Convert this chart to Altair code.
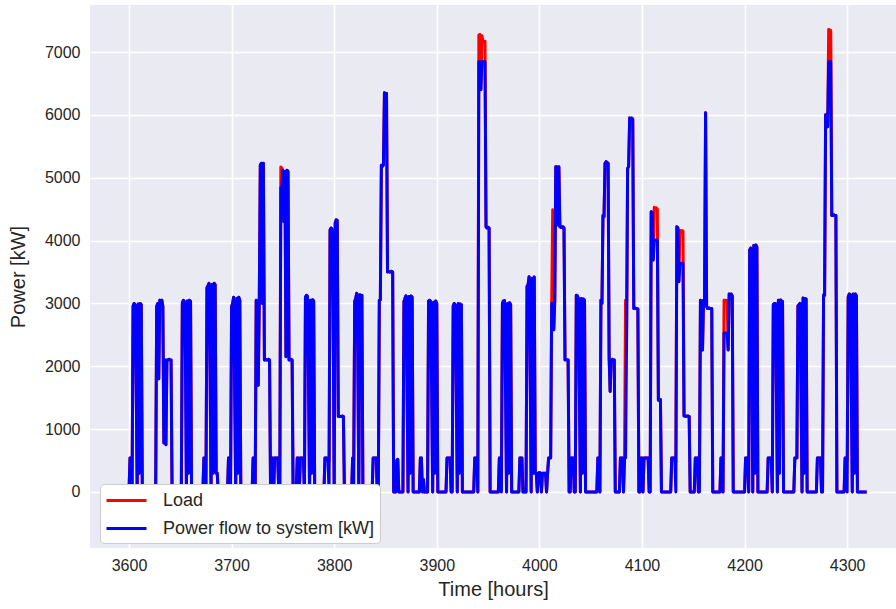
import altair as alt
import pandas as pd

START_HOUR = 3600
SERIES = ["Load", "Power flow to system [kW]"]
COLORS = ["#ff0000", "#0000ff"]
X_TICKS = [3600, 3700, 3800, 3900, 4000, 4100, 4200, 4300]
Y_TICKS = [0, 1000, 2000, 3000, 4000, 5000, 6000, 7000]

# Load [kW], one list of 24 hourly values per day
LOAD_DAYS = [
    [0, 540, 540, 0, 2960, 3000, 2980, 1730, 0, 2990, 300, 3000, 2980, 0, 0, 0, 0, 0, 0, 0, 0, 0, 0, 0],
    [0, 0, 0, 2950, 3000, 1800, 3050, 3000, 3050, 2950, 780, 2100, 750, 2100, 2100, 2110, 2100, 2100, 0, 0, 0, 0, 0, 0],
    [0, 0, 0, 0, 3010, 3050, 3030, 2200, 0, 3040, 300, 3050, 3030, 0, 0, 0, 0, 0, 0, 0, 0, 0, 0, 0],
    [0, 540, 540, 0, 3250, 3280, 3320, 1990, 0, 3300, 300, 3320, 3300, 300, 300, 0, 0, 0, 0, 0, 0, 0, 0, 0],
    [0, 540, 540, 0, 2950, 3000, 3100, 1670, 0, 3080, 300, 3100, 3050, 0, 0, 0, 0, 0, 0, 0, 0, 0, 0, 0],
    [0, 540, 540, 0, 3050, 3000, 1700, 3050, 5200, 5230, 3000, 5230, 2100, 2110, 2100, 2100, 2110, 2100, 0, 540, 540, 0, 540, 540],
    [540, 540, 0, 0, 5170, 5150, 5120, 4300, 5100, 2150, 5120, 5100, 2100, 2100, 2110, 2100, 0, 0, 0, 0, 540, 540, 0, 540],
    [540, 540, 540, 0, 3100, 3130, 3110, 1810, 0, 3050, 300, 3060, 3040, 0, 0, 0, 0, 0, 0, 0, 0, 0, 0, 540],
    [540, 540, 500, 480, 4170, 4200, 4180, 2900, 0, 4280, 4330, 4320, 1200, 1210, 1200, 1200, 1210, 1200, 0, 0, 0, 0, 0, 0],
    [0, 0, 540, 500, 3030, 3080, 3160, 2230, 0, 3140, 3100, 3130, 0, 0, 0, 0, 0, 0, 0, 0, 0, 0, 540, 540],
    [540, 540, 0, 0, 3050, 3060, 5200, 5180, 5200, 6350, 6300, 6340, 3500, 3510, 3500, 3500, 3510, 3500, 0, 0, 0, 500, 520, 0],
    [0, 0, 0, 0, 3030, 3080, 3120, 1730, 0, 3110, 300, 3120, 3100, 0, 0, 0, 0, 0, 0, 0, 540, 540, 0, 200],
    [0, 0, 0, 0, 3040, 3050, 3030, 1675, 0, 3020, 300, 3040, 3000, 0, 0, 0, 0, 0, 0, 0, 0, 0, 540, 540],
    [540, 540, 0, 0, 2960, 3000, 2980, 1650, 0, 3000, 300, 2990, 2980, 0, 0, 0, 0, 0, 0, 0, 0, 0, 0, 0],
    [0, 540, 540, 540, 0, 7270, 7280, 6400, 7260, 7170, 7160, 7170, 4220, 4200, 4210, 4200, 0, 0, 0, 0, 0, 0, 0, 0],
    [0, 540, 540, 540, 3000, 3040, 3045, 1675, 0, 3000, 300, 3010, 2980, 0, 0, 0, 0, 0, 0, 0, 0, 540, 540, 540],
    [0, 0, 0, 0, 3270, 3300, 3425, 1970, 0, 3400, 300, 3420, 300, 300, 0, 300, 310, 300, 0, 300, 290, 300, 300, 0],
    [300, 540, 540, 540, 3000, 4490, 2580, 3050, 5175, 5170, 4250, 5175, 4220, 4210, 4220, 4220, 4200, 2100, 2110, 2100, 2100, 0, 0, 540],
    [540, 540, 0, 0, 3130, 3120, 3080, 1675, 0, 3080, 300, 3070, 3050, 0, 0, 0, 0, 0, 0, 0, 0, 0, 0, 0],
    [0, 540, 540, 0, 3050, 3000, 4400, 4380, 5230, 5255, 5240, 5230, 2130, 1600, 2100, 2110, 2100, 2100, 0, 0, 0, 0, 0, 540],
    [540, 540, 0, 540, 3050, 2450, 5150, 5175, 5950, 5940, 5950, 5930, 2920, 2930, 2920, 2920, 2910, 0, 0, 540, 540, 0, 540, 540],
    [540, 540, 540, 0, 0, 4460, 4450, 3690, 4530, 4510, 4520, 4500, 1460, 1460, 1470, 0, 0, 0, 0, 0, 0, 0, 0, 0],
    [0, 540, 540, 540, 540, 480, 4220, 4200, 3345, 4160, 4150, 4160, 4150, 1210, 1210, 1200, 1210, 1210, 1200, 0, 0, 0, 0, 0],
    [540, 540, 540, 0, 300, 3050, 3030, 2260, 3050, 3055, 6035, 2950, 2920, 2930, 2920, 2920, 2920, 0, 0, 0, 0, 0, 0, 0],
    [0, 540, 540, 0, 3050, 3050, 3040, 3050, 2260, 3150, 3140, 3150, 3120, 0, 0, 0, 0, 0, 0, 0, 0, 0, 0, 0],
    [0, 540, 540, 540, 0, 3850, 3880, 2580, 0, 3920, 300, 3930, 3900, 0, 0, 0, 0, 0, 0, 0, 0, 0, 0, 540],
    [540, 540, 540, 0, 2980, 3000, 3000, 1700, 0, 3050, 300, 3055, 3040, 3030, 0, 0, 0, 0, 0, 0, 0, 0, 0, 0],
    [0, 540, 540, 540, 2960, 2980, 3000, 1700, 0, 3085, 300, 3080, 3070, 0, 0, 0, 0, 0, 0, 0, 0, 0, 0, 540],
    [540, 540, 540, 0, 0, 3135, 3130, 6000, 6000, 5810, 7360, 7350, 7340, 4400, 4400, 4410, 4400, 4400, 0, 0, 0, 0, 0, 0],
    [0, 0, 540, 540, 500, 3100, 3150, 3140, 1755, 0, 3150, 300, 3150, 3120, 0, 0, 0, 0, 0, 0, 0, 0, 0, 0],
]

# Power flow to system equals the load except at these (day, hour-of-day) points
POWER_DIFF = {
    6: {4: 4840, 5: 4840},
    8: {3: 0},
    9: {3: 0},
    14: {5: 6845, 6: 6845, 8: 6845, 9: 6845, 10: 6845, 11: 6845},
    15: {3: 0},
    17: {5: 3000},
    20: {4: 540},
    21: {8: 4010, 9: 4010, 10: 4010, 11: 4000},
    22: {5: 0, 9: 3640, 10: 3640, 11: 3640, 12: 3640},
    23: {4: 0},
    24: {4: 2530, 5: 2530, 6: 2530, 7: 2530},
    28: {10: 6845, 11: 6845, 12: 6845},
    29: {4: 0},
}

rows = []
for d, day in enumerate(LOAD_DAYS):
    diff = POWER_DIFF.get(d, {})
    for r, v in enumerate(day):
        h = START_HOUR + 24 * d + r
        rows.append({"hour": h, "value": v, "series": SERIES[0]})
        rows.append({"hour": h, "value": diff.get(r, v), "series": SERIES[1]})
df = pd.DataFrame(rows)

FONT = "Liberation Sans"
TXT = "#262626"

color = alt.Color(
    "series:N",
    scale=alt.Scale(domain=SERIES, range=COLORS),
    legend=alt.Legend(
        title=None, orient="none", legendX=10, legendY=479, direction="vertical",
        fillColor="white", strokeColor="#cccccc", cornerRadius=4, padding=5,
        symbolType="M-1,0H3", symbolSize=400, symbolStrokeWidth=2.8,
        symbolFillColor="transparent",
        labelFontSize=18, labelFont=FONT, labelColor=TXT, labelOffset=35,
        rowPadding=7, labelLimit=400,
    ),
)

x = alt.X(
    "hour:Q",
    scale=alt.Scale(domain=[3562, 4347.6], nice=False, zero=False),
    axis=alt.Axis(values=X_TICKS, format="d", title="Time [hours]",
                  labelPadding=9, titlePadding=6),
)
y = alt.Y(
    "value:Q",
    scale=alt.Scale(domain=[-891, 7748], nice=False, zero=False),
    axis=alt.Axis(values=Y_TICKS, format="d", title="Power [kW]",
                  labelPadding=10, titlePadding=16),
)

base = alt.Chart(df).mark_line(strokeWidth=3.0, clip=True, strokeJoin="round").encode(
    x=x, y=y, color=color, order="hour:Q"
)
red = base.transform_filter(alt.datum.series == SERIES[0])
blue = base.transform_filter(alt.datum.series == SERIES[1])

chart = alt.layer(red, blue).properties(
    width=806, height=543,
    padding={"left": 90, "top": 5, "right": 0, "bottom": 61},
    autosize=alt.AutoSizeParams(type="none"),
    background="white",
).configure_view(
    fill="#EAEAF2", strokeWidth=0
).configure_axis(
    grid=True, gridColor="white", gridWidth=1.6, domain=False, ticks=False,
    labelFont=FONT, titleFont=FONT, labelFontSize=16, titleFontSize=20,
    labelColor=TXT, titleColor=TXT, titleFontWeight="normal",
)

chart.save("out.html", embed_options={"renderer": "svg", "actions": False})
